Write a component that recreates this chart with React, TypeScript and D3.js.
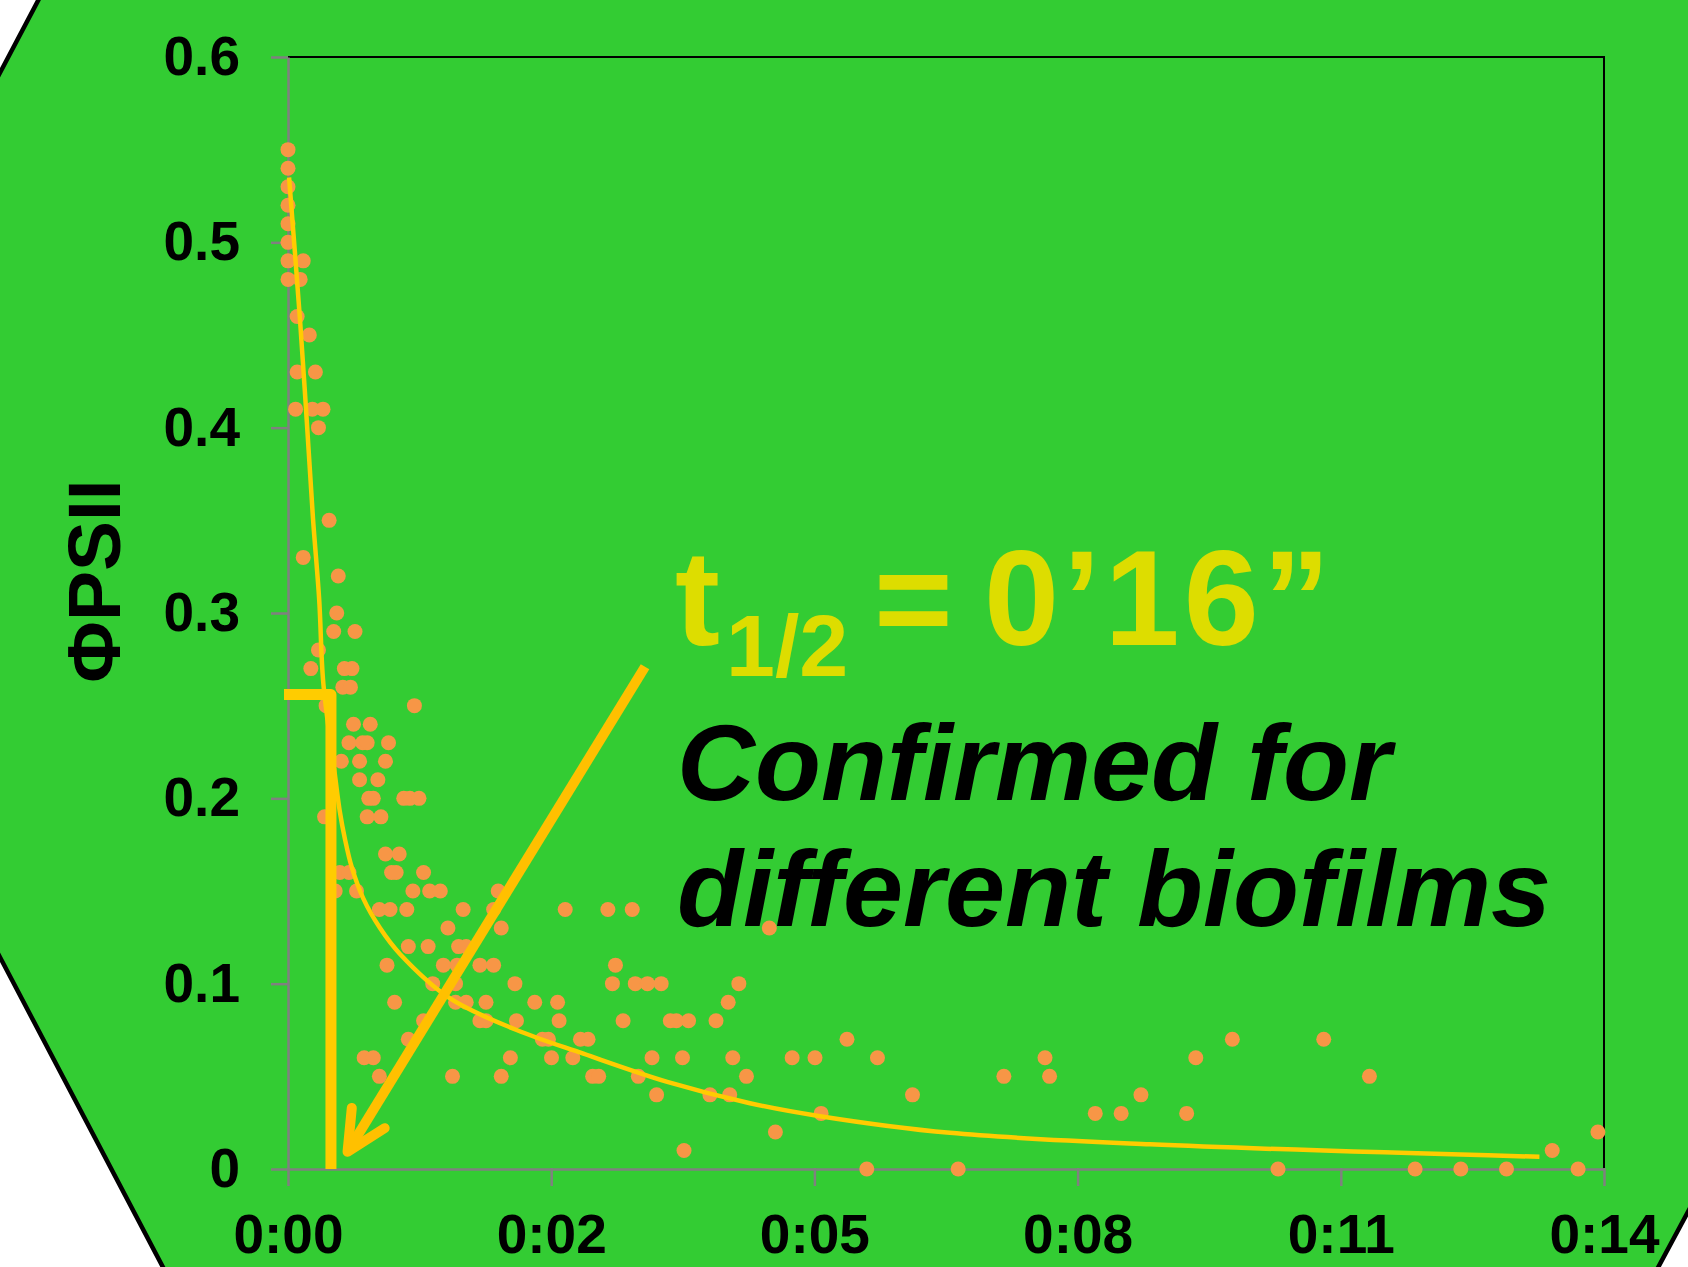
import React, { useEffect, useRef } from 'react';
import * as d3 from 'd3';

// ΦPSII readings sit on a 0.01 grid: one row of times (seconds) for each value
const rowValues = [
  0.55, 0.54, 0.53, 0.52, 0.51, 0.5, 0.49, 0.48, 0.46, 0.45, 0.43, 0.41, 0.4, 0.35, 0.33, 0.32, 0.3, 0.29, 0.28,
  0.27, 0.26, 0.25, 0.24, 0.23, 0.22, 0.21, 0.2, 0.19, 0.17, 0.16, 0.15, 0.14, 0.13, 0.12, 0.11, 0.1, 0.09, 0.08,
  0.07, 0.06, 0.05, 0.04, 0.03, 0.02, 0.01, 0,
];
const rowTimes = [
  [0], [0], [0], [0], [0], [0], [0, 10], [0, 8], [6], [14], [6, 18], [5, 16, 23], [20], [27], [10], [33], [32],
  [30, 44], [20], [15, 37, 42], [36, 41], [25, 83], [43, 54], [40, 49, 52, 66], [35, 47, 64], [47, 59],
  [53, 56, 76, 80, 86], [24, 52, 61], [64, 73], [34, 40, 68, 71, 89], [31, 45, 82, 93, 100, 138],
  [60, 67, 78, 115, 135, 182, 210, 226], [105, 140, 316], [79, 92, 112, 117], [65, 102, 111, 126, 135, 215],
  [95, 110, 149, 213, 228, 236, 245, 296], [70, 110, 117, 130, 162, 177, 289],
  [89, 126, 130, 150, 178, 220, 251, 255, 263, 281], [79, 167, 171, 192, 197, 367, 620, 680],
  [50, 56, 146, 173, 187, 239, 259, 292, 331, 346, 387, 497, 596], [60, 108, 140, 200, 204, 230, 301, 470, 500, 710],
  [242, 277, 290, 410, 560], [350, 530, 547, 590], [320, 860], [260, 830], [380, 440, 650, 740, 770, 800, 847],
];

// fitted decay curve
const fitTime = [0.7, 7.9, 12.3, 16.4, 20.5, 23.2, 30.9, 34, 37.4, 41.8, 49.4, 60.4, 73.5, 106.4, 150.1, 193.9, 249, 303.3, 349.3, 434.6, 565.9, 821.6];
const fitValue = [0.535, 0.458, 0.404, 0.351, 0.307, 0.262, 0.212, 0.193, 0.178, 0.163, 0.146, 0.13, 0.116, 0.092, 0.075, 0.0622, 0.047, 0.0355, 0.0285, 0.0195, 0.0133, 0.0066];

const yTicks = [0, 0.1, 0.2, 0.3, 0.4, 0.5, 0.6];
const yTickLabels = ['0', '0.1', '0.2', '0.3', '0.4', '0.5', '0.6'];
const xTicks = [0, 172.8, 345.6, 518.4, 691.2, 864];
const xTickLabels = ['0:00', '0:02', '0:05', '0:08', '0:11', '0:14'];

// half-life marker and pointer arrow (time s, value)
const halfTime = 28.2;
const halfValue = 0.256;
const arrowStart = [234.4, 0.271];
const arrowEnd = [39.1, 0.0093];

const FONT = "'Liberation Sans', Arial, sans-serif";

function App() {
  const svgRef = useRef(null);

  useEffect(() => {
    document.body.style.margin = '0';
    const svg = d3.select(svgRef.current);
    svg.selectAll('*').remove();

    const width = 1688;
    const height = 1267;
    const margin = { top: 57, right: 84, bottom: 98, left: 288 };
    const innerWidth = width - margin.left - margin.right;
    const innerHeight = height - margin.top - margin.bottom;

    svg.attr('width', width).attr('height', height);

    // slide background: white page with a big green octagon
    svg.append('rect').attr('width', width).attr('height', height).attr('fill', '#ffffff');
    svg.append('polygon')
      .attr('points', '144,-200 -233,514 268,1467 1551,1467 1800,1003 1800,-200')
      .attr('fill', '#33cc33')
      .attr('stroke', '#000000')
      .attr('stroke-width', 4.5);

    const g = svg.append('g').attr('transform', `translate(${margin.left},${margin.top})`);

    const xScale = d3.scaleLinear().domain([0, 864]).range([0, innerWidth]);
    const yScale = d3.scaleLinear().domain([0, 0.6]).range([innerHeight, 0]);

    // top and right frame
    g.append('path')
      .attr('d', `M0,0H${innerWidth}V${innerHeight}`)
      .attr('fill', 'none')
      .attr('stroke', '#000000')
      .attr('stroke-width', 2);

    const yAxis = g.append('g')
      .call(d3.axisLeft(yScale).tickValues(yTicks).tickFormat((d, i) => yTickLabels[i]).tickSize(17).tickSizeOuter(0).tickPadding(31));
    const xAxis = g.append('g')
      .attr('transform', `translate(0,${innerHeight})`)
      .call(d3.axisBottom(xScale).tickValues(xTicks).tickFormat((d, i) => xTickLabels[i]).tickSize(17).tickSizeOuter(0).tickPadding(28));

    [yAxis, xAxis].forEach((ax) => {
      ax.attr('font-family', FONT).attr('font-size', 55);
      ax.select('.domain').attr('stroke', '#808080').attr('stroke-width', 2.5);
      ax.selectAll('.tick line').attr('stroke', '#808080').attr('stroke-width', 2.5);
      ax.selectAll('.tick text').attr('fill', '#000000').attr('font-weight', 'bold');
    });
    xAxis.selectAll('.tick line').attr('y1', -1);

    const points = rowValues.flatMap((v, i) => rowTimes[i].map((t) => ({ t, v })));

    g.selectAll('.dot')
      .data(points)
      .enter()
      .append('circle')
      .attr('class', 'dot')
      .attr('cx', (d) => xScale(d.t))
      .attr('cy', (d) => yScale(d.v))
      .attr('r', 7.5)
      .attr('fill', '#f79646');

    const fitLine = d3.line()
      .x((d) => xScale(d[0]))
      .y((d) => yScale(d[1]))
      .curve(d3.curveCatmullRom.alpha(0.5));

    g.append('path')
      .attr('d', fitLine(fitTime.map((t, i) => [t, fitValue[i]])))
      .attr('fill', 'none')
      .attr('stroke', '#ffcc00')
      .attr('stroke-width', 4.5);

    // half-life bracket
    g.append('path')
      .attr('d', `M${xScale(0) - 4},${yScale(halfValue)}H${xScale(halfTime)}V${yScale(0)}`)
      .attr('fill', 'none')
      .attr('stroke', '#ffcc00')
      .attr('stroke-width', 11)
      .attr('stroke-linejoin', 'round');

    // arrow
    const x1 = xScale(arrowStart[0]);
    const y1 = yScale(arrowStart[1]);
    const x2 = xScale(arrowEnd[0]);
    const y2 = yScale(arrowEnd[1]);
    const ang = Math.atan2(y1 - y2, x1 - x2);
    const wing = 44;
    const spread = (26 * Math.PI) / 180;
    const w1 = [x2 + wing * Math.cos(ang - spread), y2 + wing * Math.sin(ang - spread)];
    const w2 = [x2 + wing * Math.cos(ang + spread), y2 + wing * Math.sin(ang + spread)];

    g.append('line')
      .attr('x1', x1).attr('y1', y1).attr('x2', x2).attr('y2', y2)
      .attr('stroke', '#ffc000')
      .attr('stroke-width', 10);
    g.append('path')
      .attr('d', `M${w1[0]},${w1[1]}L${x2},${y2}L${w2[0]},${w2[1]}`)
      .attr('fill', 'none')
      .attr('stroke', '#ffc000')
      .attr('stroke-width', 10)
      .attr('stroke-linecap', 'round')
      .attr('stroke-linejoin', 'round');

    // y axis title
    svg.append('text')
      .attr('transform', 'translate(120,581) rotate(-90)')
      .attr('text-anchor', 'middle')
      .attr('font-family', FONT)
      .attr('font-weight', 'bold')
      .attr('font-size', 75)
      .attr('fill', '#000000')
      .text('ΦPSII');

    // annotations
    const half = svg.append('text')
      .attr('x', 675)
      .attr('y', 645)
      .attr('font-family', FONT)
      .attr('font-weight', 'bold')
      .attr('font-size', 135)
      .attr('fill', '#dddd00');
    half.append('tspan').text('t');
    half.append('tspan').attr('font-size', 88).attr('dx', 6).attr('dy', 31).text('1/2');
    half.append('tspan').attr('x', 874).attr('dy', -31).text('=');
    half.append('tspan').attr('x', 984).attr('letter-spacing', 4).text('0’16”');

    svg.append('text')
      .attr('x', 677)
      .attr('y', 800)
      .attr('font-family', FONT)
      .attr('font-weight', 'bold')
      .attr('font-style', 'italic')
      .attr('font-size', 108)
      .attr('fill', '#000000')
      .text('Confirmed for');

    svg.append('text')
      .attr('x', 677)
      .attr('y', 926)
      .attr('font-family', FONT)
      .attr('font-weight', 'bold')
      .attr('font-style', 'italic')
      .attr('font-size', 108)
      .attr('fill', '#000000')
      .text('different biofilms');
  }, []);

  return (
    <div>
      <svg ref={svgRef} style={{ display: 'block' }}></svg>
    </div>
  );
}

export default App;
